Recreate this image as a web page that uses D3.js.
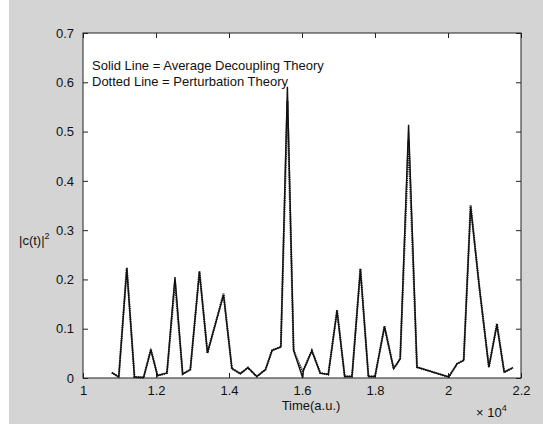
<!DOCTYPE html>
<html><head><meta charset="utf-8">
<script src="https://cdn.jsdelivr.net/npm/d3@7"></script>
<style>body{margin:0;background:#fff}svg{display:block}text{font-family:"Liberation Sans",Arial,sans-serif;fill:#111}</style>
</head><body><svg id="c" width="543" height="424"></svg>
<script>
// time in units of 10^4 a.u.
const time = [1.079,1.098,1.12,1.141,1.166,1.186,1.204,1.23,1.252,1.273,1.294,1.319,1.341,1.385,1.408,1.431,1.452,1.476,1.50,1.518,1.542,1.56,1.577,1.602,1.604,1.627,1.65,1.672,1.696,1.717,1.737,1.76,1.782,1.80,1.826,1.851,1.869,1.892,1.915,2.002,2.025,2.043,2.062,2.085,2.112,2.134,2.154,2.178];
const solid = [0.011,0.002,0.222,0.002,0.001,0.057,0.005,0.01,0.205,0.008,0.017,0.215,0.051,0.169,0.019,0.009,0.021,0.003,0.017,0.056,0.063,0.591,0.056,0.0,0.016,0.055,0.01,0.007,0.136,0.003,0.003,0.22,0.003,0.003,0.104,0.019,0.039,0.514,0.022,0.002,0.029,0.036,0.348,0.19,0.022,0.108,0.012,0.021];
const dotted = [0.011,0.002,0.224,0.002,0.001,0.058,0.005,0.01,0.195,0.008,0.017,0.217,0.051,0.171,0.019,0.009,0.021,0.003,0.017,0.056,0.063,0.562,0.056,0.012,0.016,0.056,0.01,0.007,0.138,0.003,0.003,0.222,0.003,0.003,0.105,0.019,0.039,0.483,0.022,0.002,0.029,0.036,0.351,0.19,0.022,0.11,0.012,0.021];
const xTicks = [1,1.2,1.4,1.6,1.8,2,2.2];
const yTicks = [0,0.1,0.2,0.3,0.4,0.5,0.6,0.7];
const legendLines = ["Solid Line = Average Decoupling Theory","Dotted Line = Perturbation Theory"];

const svg = d3.select("#c");
svg.append("rect").attr("x",9).attr("y",0).attr("width",534).attr("height",424).attr("fill","#d4d4d4");
const L=83,R=521,T=33,B=378;
const x = d3.scaleLinear().domain([1,2.2]).range([L,R]);
const y = d3.scaleLinear().domain([0,0.7]).range([B,T]);
svg.append("rect").attr("x",L).attr("y",T).attr("width",R-L).attr("height",B-T).attr("fill","#fff");

const fmt = d => String(+d.toFixed(1));
const gx = svg.append("g").attr("transform",`translate(0,${B})`)
  .call(d3.axisBottom(x).tickValues(xTicks).tickSizeInner(-5).tickSizeOuter(0).tickPadding(8).tickFormat(fmt));
const gxt = svg.append("g").attr("transform",`translate(0,${T})`)
  .call(d3.axisTop(x).tickValues(xTicks).tickSizeInner(-5).tickSizeOuter(0).tickFormat(""));
const gy = svg.append("g").attr("transform",`translate(${L},0)`)
  .call(d3.axisLeft(y).tickValues(yTicks).tickSizeInner(-5).tickSizeOuter(0).tickPadding(9).tickFormat(fmt));
const gyr = svg.append("g").attr("transform",`translate(${R},0)`)
  .call(d3.axisRight(y).tickValues(yTicks).tickSizeInner(-5).tickSizeOuter(0).tickFormat(""));
[gx,gxt,gy,gyr].forEach(g=>{
  g.select(".domain").remove();
  g.selectAll("line").attr("stroke","#222");
  g.selectAll("text").attr("font-size",13).attr("fill","#111").style("font-family","Liberation Sans, Arial, sans-serif");
});
svg.append("rect").attr("x",L).attr("y",T).attr("width",R-L).attr("height",B-T).attr("fill","none").attr("stroke","#222").attr("stroke-width",1);

const line = d3.line().x(d=>x(d[0])).y(d=>y(d[1]));
svg.append("path").datum(time.map((t,i)=>[t,solid[i]])).attr("d",line)
  .attr("fill","none").attr("stroke","#111").attr("stroke-width",1.4);
svg.append("path").datum(time.map((t,i)=>[t,dotted[i]])).attr("d",line)
  .attr("fill","none").attr("stroke","#111").attr("stroke-width",2).attr("stroke-dasharray","1.2,1");

legendLines.forEach((s,i)=>svg.append("text").attr("x",92).attr("y",70+i*16).attr("font-size",13).text(s));

svg.append("text").attr("x",(L+R)/2+9).attr("y",410).attr("text-anchor","middle").attr("font-size",13).text("Time(a.u.)");
const ex = svg.append("text").attr("x",476).attr("y",417).attr("font-size",13);
ex.append("tspan").text("× 10");
ex.append("tspan").attr("dy",-6).attr("font-size",9).text("4");
const yl = svg.append("text").attr("x",19).attr("y",245).attr("font-size",13);
yl.append("tspan").text("|c(t)|");
yl.append("tspan").attr("dy",-6).attr("font-size",9).text("2");
</script></body></html>
